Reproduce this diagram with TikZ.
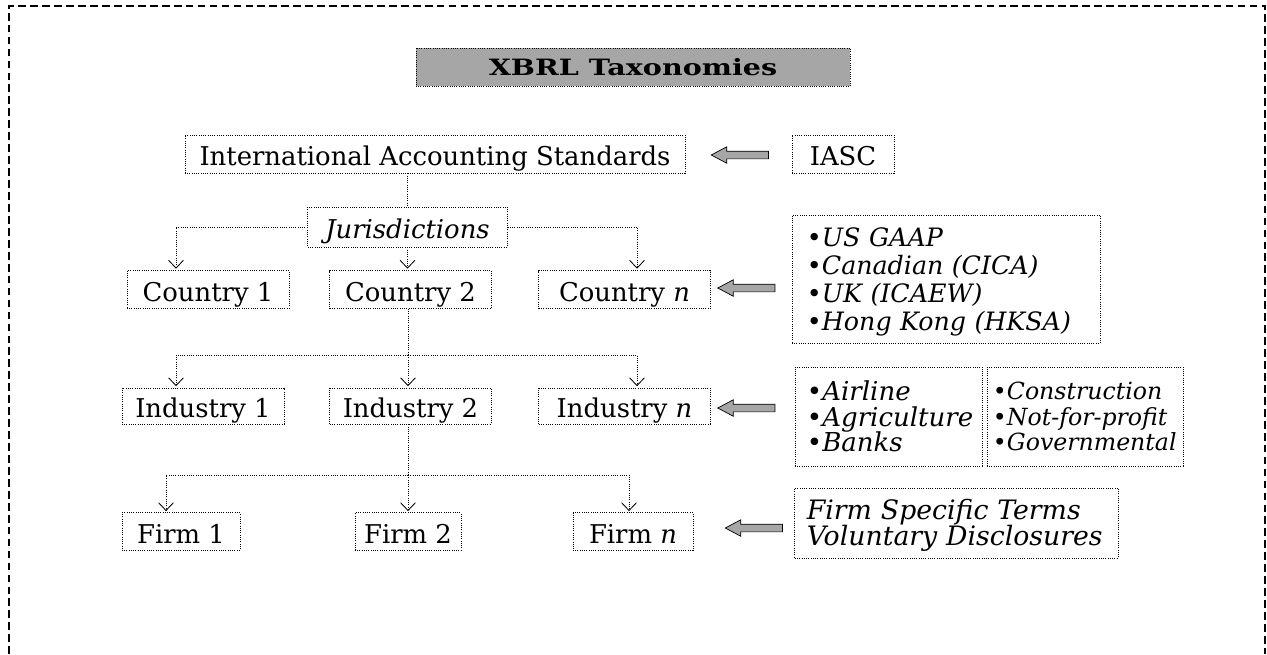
\documentclass[tikz,border=0pt]{standalone}
\usepackage{fontspec}
\setmainfont{DejaVu Serif}
\usepackage{graphicx}
\usetikzlibrary{positioning,arrows.meta,shapes.arrows}

\newcommand{\boxfont}{\fontsize{18.4}{21}\selectfont}
\newcommand{\listfont}[2]{\fontsize{#1}{#2}\selectfont\lineskiplimit=-\maxdimen\itshape}
\newcommand{\titlefont}{\fontsize{16}{20}\selectfont\bfseries}
% struts so that a list is centred on caps-to-last-baseline
\newcommand{\topstrut}{\rule{0pt}{\dimexpr 0.73em+5pt\relax}}
\newcommand{\botstrut}{\rule[-5pt]{0pt}{0pt}}

\tikzset{
    unitbox/.style={draw, densely dotted, line width=0.6pt, inner sep=0pt,
        minimum height=0.95cm, text height=17pt, text depth=0pt, font=\boxfont},
    listbox/.style={draw, densely dotted, line width=0.6pt, inner xsep=0.35cm,
        inner ysep=0pt, align=left},
    link/.style={densely dotted, line width=0.6pt},
    tiplink/.style={link, -{Straight Barb[length=5.5pt,width=10.5pt]}, shorten >=1pt},
    feed/.style={single arrow, draw, line width=0.5pt, fill=black!35,
        shape border rotate=180, inner sep=0.0875cm, minimum height=1.43cm,
        minimum width=0.4cm, single arrow head extend=0.11cm,
        single arrow tip angle=56}
}

\begin{document}
\begin{tikzpicture}[x=0.025cm, y=-0.025cm]
    \useasboundingbox (0,0) rectangle (1267,654);

    % Open dashed frame
    \draw[line width=1.3pt, dash pattern=on 5.5pt off 3pt]
        (9,654) -- (9,6) -- (1265,6) -- (1265,654);

    % Title and top level
    \node[unitbox, fill=black!35, minimum width=10.85cm, text height=12pt, font=\titlefont]
        (title) at (633,67) {\scalebox{1.27}[1]{XBRL Taxonomies}};
    \node[unitbox, minimum width=12.5cm] (ias) at (435,154)
        {International Accounting Standards};
    \node[unitbox, minimum width=2.55cm] (iasc) at (843,154) {IASC};
    \node[feed] (iasfeed) at (743.5,155) {};

    % Jurisdictions and countries
    \node[unitbox, minimum width=4.98cm, minimum height=1cm, font=\boxfont\itshape]
        (juris) at (407.5,227) {Jurisdictions};
    \foreach \k/\x/\w/\lab in {1/208/4.05/1, 2/410.5/4.03/2, n/624.5/4.28/\textit{n}}
        \node[unitbox, minimum width=\w cm] (ctry\k) at (\x,289.5) {Country \lab};
    \node[listbox, minimum height=3.2cm, inner xsep=0.375cm, text width=6.95cm,
        font=\listfont{18}{20}] (gaap) at (946,279)
        {\topstrut•US GAAP\\ •Canadian (CICA)\\ •UK (ICAEW)\\ •Hong Kong (HKSA)\botstrut};
    \node[feed] (ctryfeed) at (750,288) {};

    % Industries
    \foreach \k/\x/\w/\lab in {1/203/4.05/1, 2/410.5/4.03/2, n/624.5/4.28/\textit{n}}
        \node[unitbox, minimum width=\w cm, minimum height=0.9cm] (ind\k) at (\x,406)
            {Industry \lab};
    \node[listbox, minimum height=2.475cm, inner xsep=0.3cm, text width=4.075cm,
        font=\listfont{18.5}{18.1}] (sectorA) at (888.5,416.5)
        {\topstrut•Airline\\ •Agriculture\\ •Banks\botstrut};
    \node[listbox, minimum height=2.475cm, inner xsep=0.15cm, text width=4.6cm,
        font=\listfont{16.8}{18.1}] (sectorB) at (1085,416.5)
        {\topstrut•Construction\\ •Not-for-profit\\ •Governmental\botstrut};
    \node[feed] (indfeed) at (750,408) {};

    % Firms
    \foreach \k/\x/\w/\lab in {1/181/2.95/1, 2/408/2.65/2, n/633/3.0/\textit{n}}
        \node[unitbox, minimum width=\w cm, minimum height=0.93cm] (firm\k) at (\x,531.5)
            {Firm \lab};
    \node[listbox, minimum height=1.75cm, inner xsep=0.3cm, text width=7.48cm,
        font=\listfont{19}{18.4}] (specific) at (956.5,523)
        {\topstrut Firm Specific Terms\\ Voluntary Disclosures\botstrut};
    \node[feed] (firmfeed) at (757.5,528) {};

    % Branch columns
    \coordinate (tapL) at (176,0);
    \coordinate (tapR) at (637,0);
    \coordinate (firmL) at (166,0);
    \coordinate (firmR) at (629,0);
    \coordinate (splitI) at (408,355);
    \coordinate (splitF) at (408,475);

    % Standards -> jurisdictions -> countries
    \draw[link] (ias.south -| juris.north) -- (juris.north);
    \draw[tiplink] (juris.south) -- (juris.south |- ctry2.north);
    \draw[tiplink] (juris.west) -| (tapL |- ctry1.north);
    \draw[tiplink] (juris.east) -| (tapR |- ctryn.north);

    % Countries -> industries
    \draw[link] (ctry2.south -| splitI) -- (splitI);
    \draw[tiplink] (splitI) -| (tapL |- ind1.north);
    \draw[tiplink] (splitI) -| (tapR |- indn.north);
    \draw[tiplink] (splitI) -- (splitI |- ind2.north);

    % Industries -> firms
    \draw[link] (ind2.south -| splitF) -- (splitF);
    \draw[tiplink] (splitF) -| (firmL |- firm1.north);
    \draw[tiplink] (splitF) -| (firmR |- firmn.north);
    \draw[tiplink] (splitF) -- (splitF |- firm2.north);
\end{tikzpicture}
\end{document}
